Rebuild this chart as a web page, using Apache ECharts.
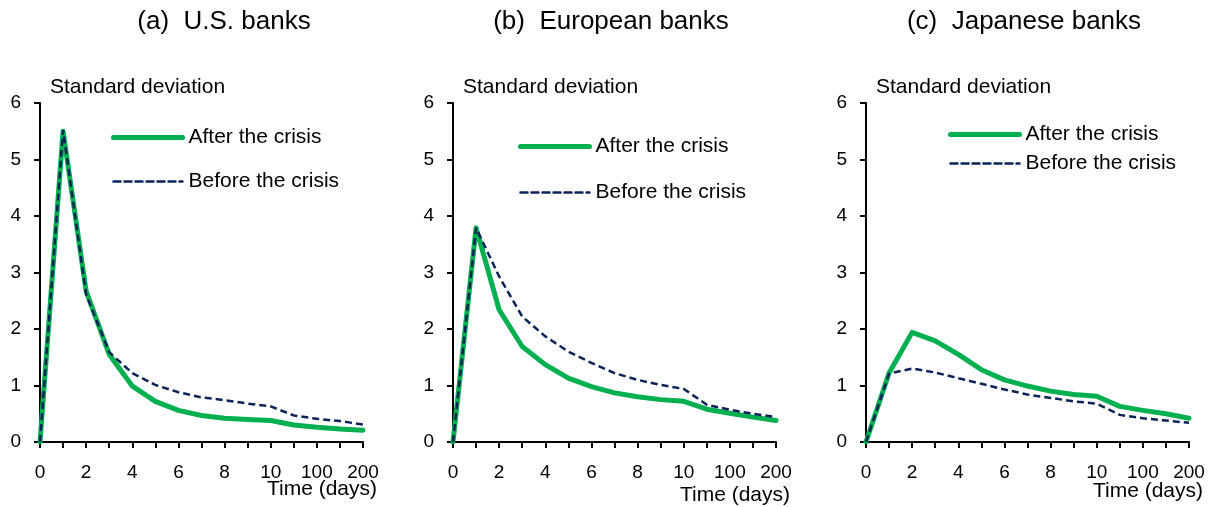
<!DOCTYPE html>
<html>
<head>
<meta charset="utf-8">
<script src="https://cdn.jsdelivr.net/npm/echarts@6/dist/echarts.min.js"></script>
<style>
  html, body { margin: 0; padding: 0; background: #fff; }
  #chart { width: 1215px; height: 507px; }
</style>
</head>
<body>
<div id="chart"></div>
<script>
// Horizon in days; the axis is compressed after day 10
const days = ['0', '1', '2', '3', '4', '5', '6', '7', '8', '9', '10', '50', '100', '150', '200'];
const yTicks = [0, 1, 2, 3, 4, 5, 6];

const panelTitles = ['(a)  U.S. banks', '(b)  European banks', '(c)  Japanese banks'];
const seriesNames = ['After the crisis', 'Before the crisis'];

// Standard deviation of the response, after / before the crisis
const usAfter = [0, 5.50, 2.67, 1.55, 0.99, 0.72, 0.56, 0.47, 0.42, 0.40, 0.38, 0.30, 0.26, 0.23, 0.21];
const usBefore = [0, 5.52, 2.61, 1.59, 1.22, 1.01, 0.88, 0.79, 0.74, 0.68, 0.63, 0.47, 0.41, 0.37, 0.31];

const euAfter = [0, 3.79, 2.34, 1.69, 1.37, 1.13, 0.98, 0.87, 0.80, 0.75, 0.72, 0.58, 0.51, 0.44, 0.38];
const euBefore = [0, 3.79, 2.93, 2.22, 1.87, 1.60, 1.40, 1.22, 1.10, 1.01, 0.94, 0.66, 0.57, 0.50, 0.44];

const jpAfter = [0, 1.22, 1.94, 1.79, 1.55, 1.28, 1.10, 0.99, 0.90, 0.84, 0.81, 0.63, 0.56, 0.50, 0.42];
const jpBefore = [0, 1.21, 1.30, 1.23, 1.13, 1.03, 0.93, 0.84, 0.78, 0.72, 0.68, 0.48, 0.42, 0.38, 0.34];

const FONT = '"Liberation Sans", Arial, Helvetica, sans-serif';
const GREEN = '#00b050';
const NAVY = '#0c2358';

const panels = [
  { left: 40, after: usAfter, before: usBefore, titleX: 224, nameY: 489, legendTop: 127, legendLeft: 111, legendGap: 23 },
  { left: 453, after: euAfter, before: euBefore, titleX: 611, nameY: 495, legendTop: 136, legendLeft: 518, legendGap: 25 },
  { left: 866, after: jpAfter, before: jpBefore, titleX: 1024, nameY: 491, legendTop: 124, legendLeft: 948, legendGap: 8 }
];
const gridWidth = 323;
const gridTop = 103;
const gridHeight = 339;

const chart = echarts.init(document.getElementById('chart'), null, { renderer: 'canvas' });

const grid = [], xAxis = [], yAxis = [], series = [], legend = [], graphic = [];

panels.forEach((p, i) => {
  grid.push({ left: p.left, top: gridTop, width: gridWidth, height: gridHeight, containLabel: false });

  xAxis.push({
    type: 'category', gridIndex: i, data: days, boundaryGap: false,
    axisLine: { show: true, lineStyle: { color: '#000', width: 2 } },
    axisTick: { show: true, inside: false, length: 6, interval: 0, lineStyle: { color: '#000', width: 2 } },
    axisLabel: { interval: 1, margin: 21, color: '#000', fontSize: 19, fontFamily: FONT },
    splitLine: { show: false }
  });

  yAxis.push({
    type: 'value', gridIndex: i, min: yTicks[0], max: yTicks[yTicks.length - 1], interval: 1,
    axisLine: { show: true, lineStyle: { color: '#000', width: 2 } },
    axisTick: { show: true, inside: false, length: 6, lineStyle: { color: '#000', width: 2 } },
    axisLabel: { margin: 19, color: '#000', fontSize: 19, fontFamily: FONT },
    splitLine: { show: false }
  });

  series.push({
    name: seriesNames[0], type: 'line', xAxisIndex: i, yAxisIndex: i,
    data: p.after, symbol: 'none', smooth: false, z: 2,
    lineStyle: { color: GREEN, width: 5, cap: 'round', join: 'round' },
    itemStyle: { color: GREEN }
  });
  series.push({
    name: seriesNames[1], type: 'line', xAxisIndex: i, yAxisIndex: i,
    data: p.before, symbol: 'none', smooth: false, z: 3,
    lineStyle: { color: NAVY, width: 2.5, type: [7, 4] },
    itemStyle: { color: NAVY }
  });

  legend.push({
    data: seriesNames, orient: 'vertical', left: p.legendLeft, top: p.legendTop,
    itemWidth: 69, itemHeight: 14, itemGap: p.legendGap, padding: 0,
    selectedMode: false,
    itemStyle: { opacity: 0 },
    lineStyle: { width: 'inherit', type: 'inherit', cap: 'round' },
    textStyle: { color: '#000', fontSize: 21, fontFamily: FONT, padding: [0, 0, 0, 1] }
  });

  graphic.push({
    type: 'text',
    style: { text: panelTitles[i], x: p.titleX, y: 22, font: '26px ' + FONT, fill: '#000', textAlign: 'center', textVerticalAlign: 'middle' }
  });
  graphic.push({
    type: 'text',
    style: { text: 'Standard deviation', x: p.left + 10, y: 87, font: '21px ' + FONT, fill: '#000', textAlign: 'left', textVerticalAlign: 'middle' }
  });
  graphic.push({
    type: 'text',
    style: { text: 'Time (days)', x: p.left + gridWidth + 14, y: p.nameY, font: '21px ' + FONT, fill: '#000', textAlign: 'right', textVerticalAlign: 'middle' }
  });
});

chart.setOption({
  backgroundColor: '#ffffff',
  animation: false,
  textStyle: { fontFamily: FONT },
  grid, xAxis, yAxis, series, legend, graphic
});
</script>
</body>
</html>
